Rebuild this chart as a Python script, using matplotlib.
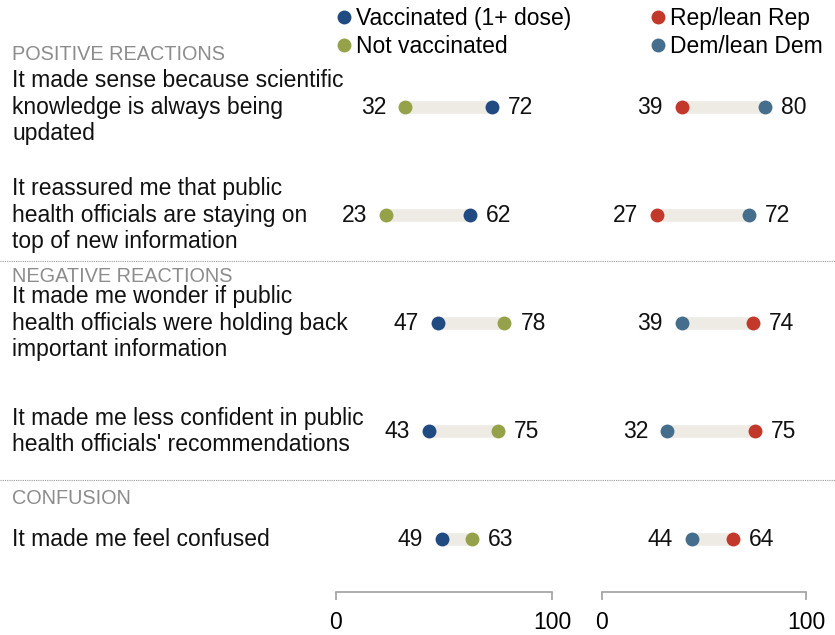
import matplotlib
matplotlib.use("Agg")
import matplotlib.pyplot as plt
from matplotlib.lines import Line2D
from matplotlib.transforms import blended_transform_factory

plt.rcParams["font.family"] = ["Liberation Sans", "DejaVu Sans"]

# data
labels = [
    "It made sense because scientific\nknowledge is always being\nupdated",
    "It reassured me that public\nhealth officials are staying on\ntop of new information",
    "It made me wonder if public\nhealth officials were holding back\nimportant information",
    "It made me less confident in public\nhealth officials' recommendations",
    "It made me feel confused",
]
sections = ["POSITIVE REACTIONS", "NEGATIVE REACTIONS", "CONFUSION"]
vaccinated = [72, 62, 47, 43, 49]
not_vaccinated = [32, 23, 78, 75, 63]
rep = [39, 27, 74, 75, 64]
dem = [80, 72, 39, 32, 44]

C_VAC = "#1f4a82"
C_NOT = "#95a24a"
C_REP = "#c2392b"
C_DEM = "#456e8c"
C_BAR = "#eeebe4"
C_GRAY = "#8c8c8c"
FS = 16.5

W, H = 835, 635
fig = plt.figure(figsize=(W / 100, H / 100), dpi=100)


def fx(px):
    return px / W


def fy(py):
    return 1 - py / H


top, bottom = 53, 592
ax_l = fig.add_axes([fx(336), fy(bottom), fx(552 - 336), (bottom - top) / H])
ax_r = fig.add_axes([fx(602), fy(bottom), fx(806 - 602), (bottom - top) / H])

rows = list(range(len(labels)))


def draw_panel(ax, a, b, ca, cb):
    for y, va, vb in zip(rows, a, b):
        lo, hi = min(va, vb), max(va, vb)
        ax.plot([lo, hi], [y, y], color=C_BAR, lw=9, solid_capstyle="butt", zorder=1)
        ax.plot(va, y, "o", color=ca, ms=10, mec="none", zorder=3)
        ax.plot(vb, y, "o", color=cb, ms=10, mec="none", zorder=3)
        ax.annotate(f"{lo}", (lo, y), xytext=(-13.5, 0), textcoords="offset points",
                    ha="right", va="center", fontsize=FS, color="#111111")
        ax.annotate(f"{hi}", (hi, y), xytext=(11.5, 0), textcoords="offset points",
                    ha="left", va="center", fontsize=FS, color="#111111")
    ax.set_xlim(0, 100)
    ax.set_ylim(4.49, -0.5)
    ax.set_xticks([0, 100])
    ax.set_yticks([])
    for s in ["top", "left", "right"]:
        ax.spines[s].set_visible(False)
    ax.spines["bottom"].set_color("#a0a0a0")
    ax.spines["bottom"].set_linewidth(1.2)
    ax.tick_params(axis="x", direction="out", length=6, width=1.2, color="#a0a0a0",
                   labelsize=FS, pad=8)
    ax.patch.set_visible(False)


draw_panel(ax_l, vaccinated, not_vaccinated, C_VAC, C_NOT)
draw_panel(ax_r, rep, dem, C_REP, C_DEM)

# row labels
tr = blended_transform_factory(fig.transFigure, ax_l.transData)
for y, lab in zip(rows, labels):
    fig.text(fx(12), y, lab, transform=tr, ha="left", va="center", fontsize=FS,
             color="#111111", linespacing=1.17)

# section headers
for py, sec in zip([54, 277, 499], sections):
    fig.text(fx(12), fy(py), sec, ha="left", va="center", fontsize=14.3, color=C_GRAY)

# dotted separators
for y in [1.43, 3.45]:
    fig.add_artist(Line2D([0, 1], [y, y], transform=tr, color="#9a9a9a",
                          lw=0.8, ls=(0, (1, 1))))


# legends
def make_handle(c):
    return Line2D([], [], marker="o", ls="none", color=c, ms=10, mec="none")


fig.legend([make_handle(C_VAC), make_handle(C_NOT)],
           ["Vaccinated (1+ dose)", "Not vaccinated"],
           loc="upper left", bbox_to_anchor=(fx(337), fy(7)), frameon=False,
           fontsize=FS, handlelength=0.6, handletextpad=0.25,
           labelspacing=0.2, borderpad=0, borderaxespad=0)
fig.legend([make_handle(C_REP), make_handle(C_DEM)],
           ["Rep/lean Rep", "Dem/lean Dem"],
           loc="upper left", bbox_to_anchor=(fx(651), fy(7)), frameon=False,
           fontsize=FS, handlelength=0.6, handletextpad=0.25,
           labelspacing=0.2, borderpad=0, borderaxespad=0)

fig.savefig("out.png", dpi=100)
